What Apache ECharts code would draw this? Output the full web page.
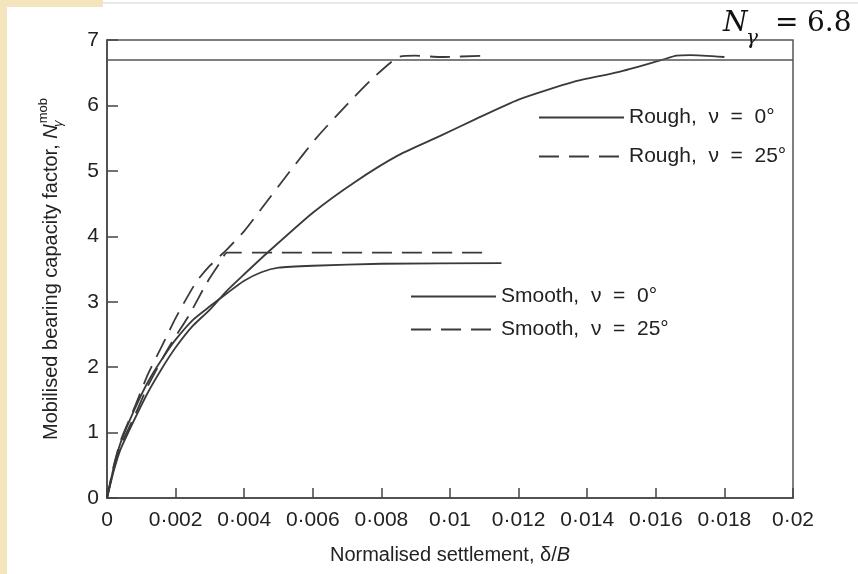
<!DOCTYPE html>
<html>
<head>
<meta charset="utf-8">
<script src="https://cdn.jsdelivr.net/npm/echarts@6/dist/echarts.min.js"></script>
<style>
  html, body { margin: 0; padding: 0; background: #fff; }
  #chart { width: 858px; height: 574px; }
</style>
</head>
<body>
<div id="chart"></div>
<script>
// [normalised settlement δ/B, mobilised N_γ]
const roughNu0 = [[0, 0], [0.0002, 0.42], [0.0004, 0.75], [0.0008, 1.2], [0.0012, 1.62], [0.0016, 1.98],
  [0.002, 2.3], [0.0025, 2.63], [0.003, 2.88], [0.0035, 3.17], [0.004, 3.42], [0.0047, 3.76],
  [0.006, 4.36], [0.0072, 4.82], [0.0085, 5.24], [0.0097, 5.53], [0.0107, 5.78], [0.012, 6.09],
  [0.0136, 6.36], [0.0149, 6.51], [0.0162, 6.7], [0.0166, 6.76], [0.017, 6.77], [0.018, 6.74]];
const roughNu25 = [[0, 0], [0.0002, 0.5], [0.0004, 0.88], [0.0008, 1.38], [0.0012, 1.9], [0.0016, 2.32],
  [0.002, 2.75], [0.0026, 3.3], [0.003, 3.55], [0.0035, 3.8], [0.004, 4.08], [0.0045, 4.42],
  [0.0053, 4.97], [0.0061, 5.5], [0.0069, 5.96], [0.0077, 6.39], [0.0085, 6.74], [0.009, 6.76],
  [0.0097, 6.74], [0.011, 6.76]];
const smoothNu0 = [[0, 0], [0.0002, 0.48], [0.0004, 0.85], [0.0008, 1.35], [0.0012, 1.78], [0.0016, 2.12],
  [0.002, 2.42], [0.0025, 2.72], [0.003, 2.93], [0.0035, 3.13], [0.004, 3.32], [0.0045, 3.45],
  [0.005, 3.52], [0.006, 3.55], [0.008, 3.58], [0.0115, 3.59]];
const smoothNu25 = [[0, 0], [0.0002, 0.45], [0.0004, 0.8], [0.0008, 1.25], [0.0012, 1.72], [0.0018, 2.3],
  [0.0024, 2.8], [0.0029, 3.28], [0.0033, 3.6], [0.0035, 3.75], [0.005, 3.75], [0.008, 3.75],
  [0.0111, 3.75]];
const limitN = 6.7;

const seriesNames = ['Rough,  ν  =  0°', 'Rough,  ν  =  25°', 'Smooth,  ν  =  0°', 'Smooth,  ν  =  25°'];
const xTickLabels = ['0', '0·002', '0·004', '0·006', '0·008', '0·01', '0·012', '0·014', '0·016', '0·018', '0·02'];
const yTickLabels = ['0', '1', '2', '3', '4', '5', '6', '7'];

const ink = '#3a3a3a';
const font = 'Liberation Sans';
const solid = { color: ink, width: 1.8, type: 'solid' };
const dashed = { color: ink, width: 1.8, type: [20, 10] };

const chart = echarts.init(document.getElementById('chart'));

const legendBase = {
  orient: 'vertical',
  itemWidth: 85,
  itemHeight: 14,
  selectedMode: false,
  padding: 0,
  itemStyle: { opacity: 0, borderWidth: 0 },
  textStyle: { fontSize: 21, color: '#222', fontFamily: font }
};

function lineSeries(name, data, style) {
  return {
    name: name, type: 'line', data: data, symbol: 'none', smooth: 0.2,
    color: ink, itemStyle: { color: ink }, lineStyle: style
  };
}

const rough0 = lineSeries(seriesNames[0], roughNu0, solid);
rough0.markLine = {
  silent: true, symbol: 'none', label: { show: false },
  lineStyle: { color: '#555', width: 1.5, type: 'solid' },
  data: [{ yAxis: limitN }]
};

const option = {
  animation: false,
  backgroundColor: '#fff',
  textStyle: { fontFamily: font },
  grid: { left: 107, right: 65, top: 40, bottom: 76, show: true, borderColor: '#555', borderWidth: 1.5 },
  legend: [
    Object.assign({}, legendBase, { data: seriesNames.slice(0, 2), left: 538, top: 107, itemGap: 18 }),
    Object.assign({}, legendBase, { data: seriesNames.slice(2, 4), left: 410, top: 286, itemGap: 12 })
  ],
  xAxis: {
    type: 'value',
    min: 0,
    max: 0.02,
    interval: 0.002,
    name: '{t|Normalised settlement, δ/}{i|B}',
    nameLocation: 'middle',
    nameGap: 47,
    nameTextStyle: {
      rich: {
        t: { fontSize: 20, color: '#222', fontFamily: font },
        i: { fontSize: 20, color: '#222', fontFamily: font, fontStyle: 'italic' }
      }
    },
    axisLine: { lineStyle: { color: '#444', width: 1.5 } },
    axisTick: { inside: true, length: 10, lineStyle: { color: '#444', width: 1.5 } },
    axisLabel: { margin: 12, fontSize: 21, color: '#222', formatter: (v, i) => xTickLabels[i] },
    splitLine: { show: false }
  },
  yAxis: {
    type: 'value',
    min: 0,
    max: 7,
    interval: 1,
    name: '{t|Mobilised bearing capacity factor, }{n|N}{s|γ}{p|mob}',
    nameLocation: 'middle',
    nameGap: 42,
    nameTextStyle: {
      rich: {
        t: { fontSize: 20, color: '#222', fontFamily: font, lineHeight: 28 },
        n: { fontSize: 20, color: '#222', fontFamily: font, fontStyle: 'italic', lineHeight: 28 },
        s: { fontSize: 13, color: '#222', fontFamily: font, fontStyle: 'italic', verticalAlign: 'bottom', width: 1 },
        p: { fontSize: 13, color: '#222', fontFamily: font, verticalAlign: 'top' }
      }
    },
    axisLine: { lineStyle: { color: '#444', width: 1.5 } },
    axisTick: { inside: true, length: 11, lineStyle: { color: '#444', width: 1.5 } },
    axisLabel: { margin: 8, fontSize: 21, color: '#222', formatter: (v, i) => yTickLabels[i] },
    splitLine: { show: false }
  },
  series: [
    rough0,
    lineSeries(seriesNames[1], roughNu25, dashed),
    lineSeries(seriesNames[2], smoothNu0, solid),
    lineSeries(seriesNames[3], smoothNu25, dashed)
  ],
  graphic: [
    // slide decoration
    { type: 'rect', left: 0, top: 0, shape: { width: 7, height: 574 }, style: { fill: '#f4e5bf' }, silent: true },
    { type: 'rect', left: 0, top: 0, shape: { width: 103, height: 7 }, style: { fill: '#f4e5bf' }, silent: true },
    { type: 'line', shape: { x1: 103, y1: 3, x2: 858, y2: 3 }, style: { stroke: '#d4d4d4', lineWidth: 1 }, silent: true },
    // N_γ = 6.8 annotation
    { type: 'text', x: 723, y: 24, style: { text: 'N', font: 'italic 28px "DejaVu Serif"', fill: '#111', verticalAlign: 'middle' } },
    { type: 'text', x: 746, y: 39, style: { text: 'γ', font: 'italic 20px "DejaVu Serif"', fill: '#111', verticalAlign: 'middle' } },
    { type: 'text', x: 775, y: 24, style: { text: '=', font: '28px "DejaVu Serif"', fill: '#111', verticalAlign: 'middle' } },
    { type: 'text', x: 807, y: 24, style: { text: '6.8', font: '28px "DejaVu Serif"', fill: '#111', verticalAlign: 'middle' } }
  ]
};

chart.setOption(option);
</script>
</body>
</html>
